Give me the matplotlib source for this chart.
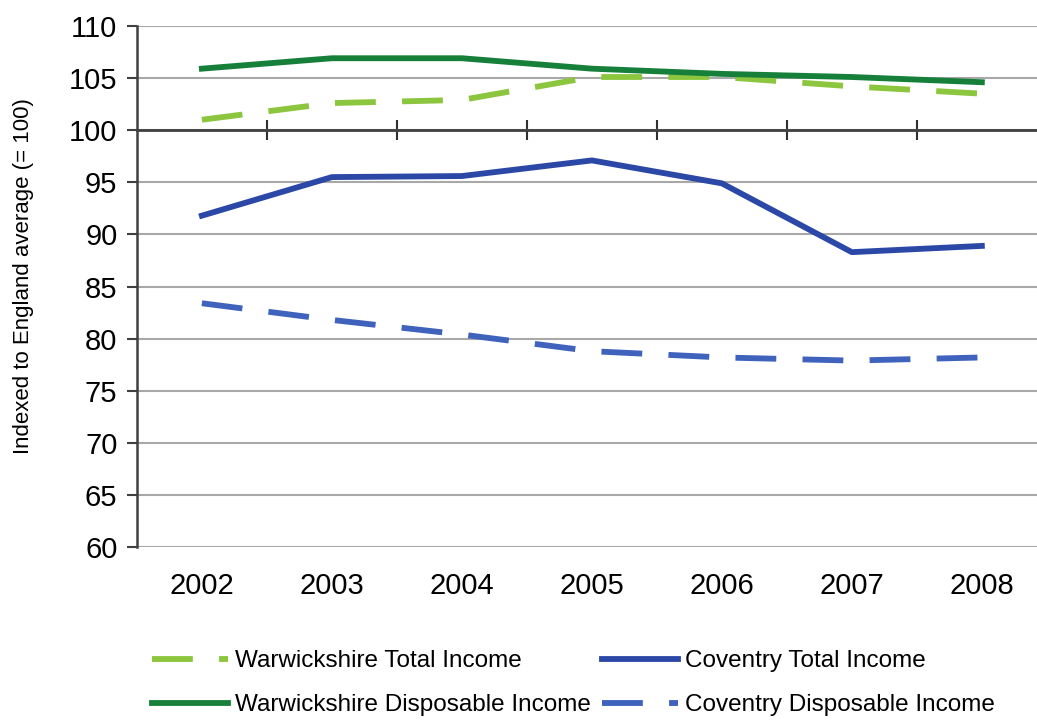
import matplotlib
matplotlib.use("Agg")
import matplotlib.pyplot as plt
from matplotlib.ticker import FixedLocator, NullFormatter

years = ['2002', '2003', '2004', '2005', '2006', '2007', '2008']
warwick_total = [101.0, 102.6, 102.9, 105.1, 105.1, 104.2, 103.5]
warwick_disp = [105.9, 106.9, 106.9, 105.9, 105.4, 105.1, 104.6]
coventry_total = [91.8, 95.5, 95.6, 97.1, 94.9, 88.3, 88.9]
coventry_disp = [83.4, 81.8, 80.4, 78.8, 78.2, 77.9, 78.2]

plt.rcParams['font.family'] = ['Liberation Sans', 'DejaVu Sans']

fig = plt.figure(figsize=(10.37, 7.2), dpi=100)
ax = fig.add_axes([0.132, 0.240, 0.8775, 0.724])

x = list(range(len(years)))
lw = 4.2
l1, = ax.plot(x, warwick_total, color='#8cc63e', lw=lw, dashes=(7, 4.5),
              label='Warwickshire Total Income')
l2, = ax.plot(x, warwick_disp, color='#16803a', lw=lw,
              label='Warwickshire Disposable Income')
l3, = ax.plot(x, coventry_total, color='#2c48a6', lw=lw,
              label='Coventry Total Income')
l4, = ax.plot(x, coventry_disp, color='#3f62bd', lw=lw, dashes=(7, 4.5),
              label='Coventry Disposable Income')

ax.set_xlim(-0.5, len(years) - 0.5)
ax.set_ylim(60, 110)
ax.set_yticks(range(60, 111, 5))
ax.yaxis.grid(True, color='#a8a8a8', lw=1.5)
ax.set_axisbelow(True)
ax.tick_params(axis='y', labelsize=21, length=7, width=1.5, color='#404040', pad=7)

# x axis sits on the 100 line, ticks between categories
for s in ['top', 'right']:
    ax.spines[s].set_visible(False)
ax.spines['left'].set_color('#404040')
ax.spines['left'].set_linewidth(1.8)
ax.spines['bottom'].set_position(('data', 100))
ax.spines['bottom'].set_color('#404040')
ax.spines['bottom'].set_linewidth(2)
ax.xaxis.set_major_locator(FixedLocator([]))
ax.xaxis.set_minor_locator(FixedLocator([i + 0.5 for i in x[:-1]]))
ax.xaxis.set_minor_formatter(NullFormatter())
ax.tick_params(axis='x', which='minor', direction='inout', length=14, width=1.5, color='#303030')

# category labels at the bottom of the plot
sec = ax.secondary_xaxis(0)
sec.set_xticks(x)
sec.set_xticklabels(years)
sec.spines['bottom'].set_visible(False)
sec.tick_params(length=0, labelsize=21, pad=18)

ax.set_ylabel('Indexed to England average (= 100)', fontsize=16)
ax.yaxis.set_label_coords(-0.113, 0.52)

leg_kw = dict(loc='upper left', frameon=False, fontsize=17.5, borderpad=0,
              handlelength=3.1, handletextpad=0.3, labelspacing=0.91)
fig.legend(handles=[l1, l2], bbox_to_anchor=(140 / 1037, 1 - 638 / 720), **leg_kw)
fig.legend(handles=[l3, l4], bbox_to_anchor=(590 / 1037, 1 - 638 / 720), **leg_kw)

fig.savefig('out.png', dpi=100)
